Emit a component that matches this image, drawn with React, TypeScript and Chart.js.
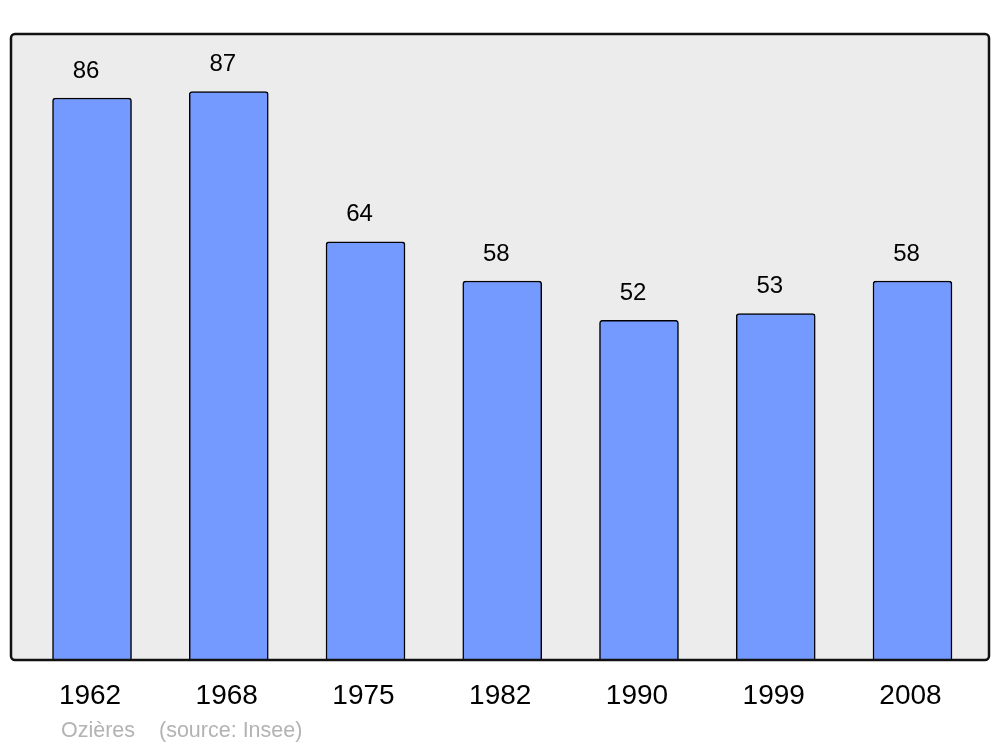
import React, { useEffect, useRef } from "react";
import { Chart, registerables } from "chart.js";
Chart.register(...registerables);

const years = ["1962", "1968", "1975", "1982", "1990", "1999", "2008"];
const population = [86, 87, 64, 58, 52, 53, 58];
const townName = "Ozières";
const sourceText = "(source: Insee)";

const framePlugin = {
  id: "frame",
  beforeDatasetsDraw(chart: any) {
    const { ctx, chartArea: a } = chart;
    ctx.save();
    ctx.fillStyle = "#ececec";
    ctx.beginPath();
    ctx.roundRect(a.left, a.top, a.right - a.left, a.bottom - a.top, 4);
    ctx.fill();
    ctx.restore();
  },
  afterDatasetsDraw(chart: any) {
    const { ctx, chartArea: a, scales } = chart;
    ctx.save();
    ctx.strokeStyle = "#111";
    ctx.lineWidth = 2.5;
    ctx.beginPath();
    ctx.roundRect(a.left, a.top, a.right - a.left, a.bottom - a.top, 4);
    ctx.stroke();
    ctx.fillStyle = "#000";
    ctx.font = '24px "Liberation Sans", Arial, sans-serif';
    ctx.textAlign = "center";
    ctx.textBaseline = "middle";
    population.forEach((v, i) => {
      const x = scales.x.getPixelForValue(i) - 6;
      const y = scales.y.getPixelForValue(v) - 27;
      ctx.fillText(String(v), x, y);
    });
    ctx.fillStyle = "#b3b3b3";
    ctx.font = '21.5px "Liberation Sans", Arial, sans-serif';
    ctx.textAlign = "left";
    ctx.fillText(townName, 61, 731);
    ctx.fillText(sourceText, 159, 731);
    ctx.restore();
  },
};

export default function App() {
  const ref = useRef<HTMLCanvasElement>(null);
  useEffect(() => {
    document.body.style.margin = "0";
    const chart = new Chart(ref.current!, {
      type: "bar",
      data: {
        datasets: [
          {
            data: population.map((v, i) => ({ x: i, y: v })),
            backgroundColor: "#7499ff",
            borderColor: "#000",
            borderWidth: 1.5,
            borderRadius: 3,
            borderSkipped: "bottom",
            barThickness: 79,
          },
        ],
      },
      options: {
        animation: false,
        responsive: false,
        layout: { padding: { left: 11, right: 11, top: 34, bottom: 0 } },
        plugins: { legend: { display: false }, tooltip: { enabled: false } },
        scales: {
          x: {
            type: "linear",
            offset: false,
            min: -0.5925,
            max: 6.5596,
            grid: { display: false, drawTicks: false, offset: false },
            border: { display: false },
            afterBuildTicks: (s: any) => {
              s.ticks = years.map((_, i) => ({ value: i }));
            },
            afterFit: (s: any) => {
              s.height = 87;
            },
            ticks: {
              padding: 19,
              labelOffset: -2,
              color: "#000",
              font: { size: 28, family: '"Liberation Sans", Arial, sans-serif' },
              callback: (v: any) => years[v] ?? "",
              maxRotation: 0,
              autoSkip: false,
            },
          },
          y: {
            display: false,
            min: 0,
            max: 95.8,
          },
        },
      },
      plugins: [framePlugin],
    });
    return () => chart.destroy();
  }, []);
  return <canvas ref={ref} width={1000} height={747} style={{ display: "block" }} />;
}
